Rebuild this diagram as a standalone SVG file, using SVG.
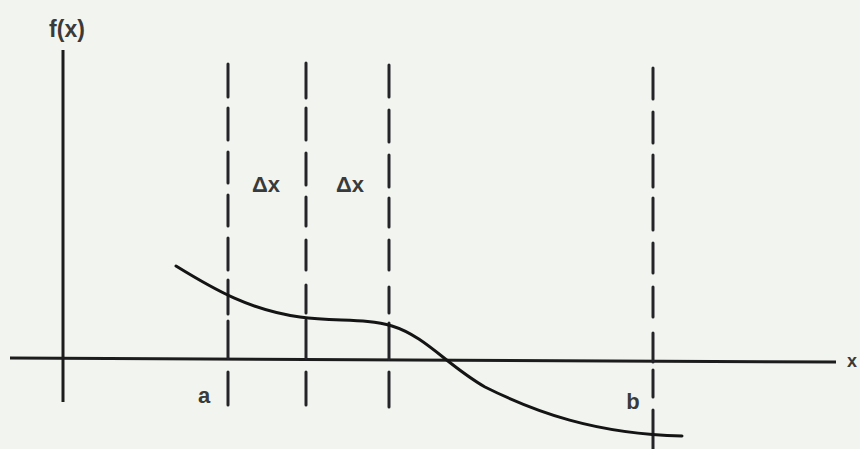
<svg xmlns="http://www.w3.org/2000/svg" width="860" height="449" viewBox="0 0 860 449">
  <style>
    .ax{stroke:#1c1c1c;stroke-width:3;fill:none;stroke-linecap:butt}
    .dash{stroke:#242428;stroke-width:3;fill:none;stroke-linecap:round}
    .curve{stroke:#141414;stroke-width:3;fill:none;stroke-linecap:round}
    .lbl{font-family:"Liberation Sans",Arial,sans-serif;font-weight:bold;fill:#3a3a3a}
  </style>
  <rect x="0" y="0" width="860" height="449" fill="#f2f5ef"/>
  <g id="axes">
    <line class="ax" x1="63" y1="50" x2="63" y2="402"/>
    <line class="ax" x1="10" y1="358" x2="836" y2="362"/>
  </g>
  <g id="connectors">
    <path id="line-a" class="dash" d="M228,64V97M228,108V140M228,152V183M228,195V226M228,238V270M228,280V314M228,321V358M228,372V405"/>
    <path id="line-2" class="dash" d="M306,63V98M306,108V140M306,153V185M306,197V226M306,240V270M306,285V313M306,320V358M306,372V405"/>
    <path id="line-3" class="dash" d="M389,65V97M389,110V142M389,155V187M389,198V227M389,240V270M389,287V313M389,323V359M389,372V407"/>
    <path id="line-b" class="dash" d="M653,68V99M653,112V143M653,155V187M653,198V230M653,243V273M653,287V317M653,333V362M653,370V397M653,410V449"/>
  </g>
  <g id="curve">
    <path class="curve" d="M176,266 C215,290 250,310 300,317 C335,322 365,318 392,326 C425,336 448,366 485,387 C535,412 595,434 682,436"/>
  </g>
  <g id="labels">
    <text class="lbl" x="67" y="37" font-size="23" text-anchor="middle">f(x)</text>
    <text class="lbl" x="266" y="192" font-size="22" text-anchor="middle">Δx</text>
    <text class="lbl" x="350" y="192" font-size="22" text-anchor="middle">Δx</text>
    <text class="lbl" x="204" y="403" font-size="22" text-anchor="middle">a</text>
    <text class="lbl" x="633" y="409" font-size="22" text-anchor="middle">b</text>
    <text class="lbl" x="847" y="367" font-size="18">x</text>
  </g>
</svg>
